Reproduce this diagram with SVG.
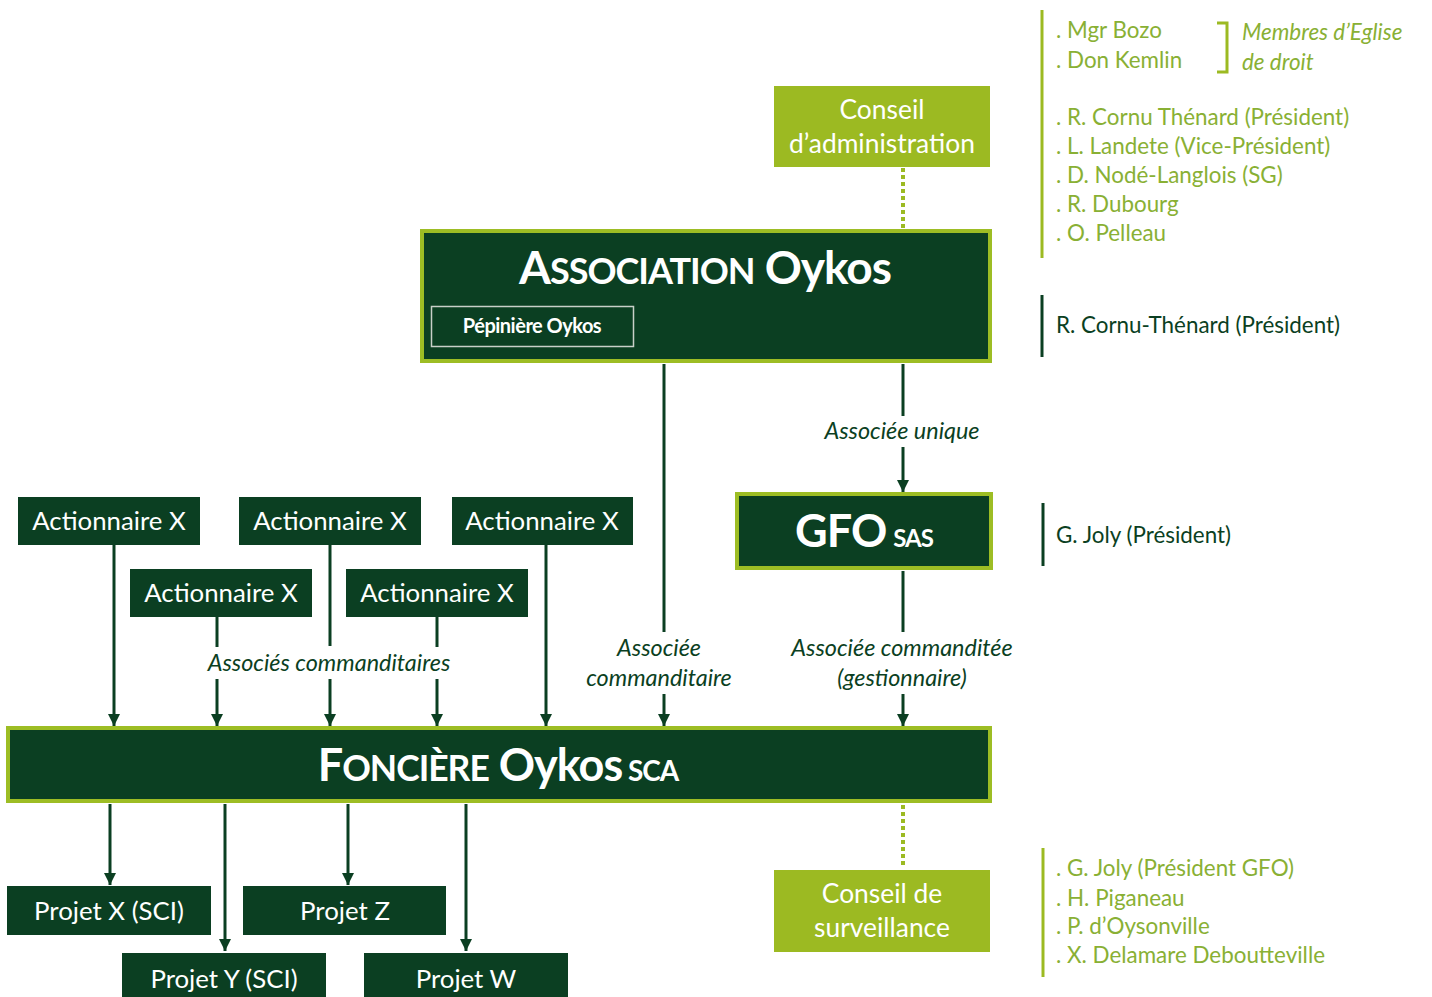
<svg xmlns="http://www.w3.org/2000/svg" width="1432" height="997" viewBox="0 0 1432 997">
<defs>
<style>
.dark{fill:#0b3f22}
.darkb{fill:#0b3f22;stroke:#9dbd24;stroke-width:4}
.lime{fill:#9cba22}
.t{font-family:Lato,"Open Sans","Liberation Sans",sans-serif;fill:#ffffff;text-anchor:middle}
.act{font-size:25.8px}
.ttl{font-weight:700}
.lbl{font-family:Lato,"Open Sans","Liberation Sans",sans-serif;font-style:italic;font-size:23.4px;fill:#0b3f22;text-anchor:middle}
.side{font-family:Lato,"Open Sans","Liberation Sans",sans-serif;font-size:22.4px;fill:#89b034}
.sided{font-family:Lato,"Open Sans","Liberation Sans",sans-serif;font-size:22.4px;fill:#0b3f22}
.ln{stroke:#0b3f22;stroke-width:3;fill:none}
.arr{stroke:#0b3f22;stroke-width:3;fill:none;marker-end:url(#ah)}
.dot{stroke:#9cba22;stroke-width:4;stroke-dasharray:4 3;fill:none}
.bar{stroke:#9cba22;stroke-width:3;fill:none}
.bard{stroke:#0b3f22;stroke-width:3;fill:none}
</style>
<marker id="ah" markerUnits="userSpaceOnUse" markerWidth="14" markerHeight="14" refX="12" refY="6" orient="auto">
<path d="M0,0 L12,6 L0,12 z" fill="#0b3f22"/>
</marker>
</defs>
<rect width="1432" height="997" fill="#ffffff"/>

<g id="connectors">
<line class="dot" x1="903" y1="168" x2="903" y2="229"/>
<line class="ln" x1="903" y1="364" x2="903" y2="416"/>
<line class="arr" x1="903" y1="447" x2="903" y2="492"/>
<line class="ln" x1="664" y1="364" x2="664" y2="632"/>
<line class="arr" x1="664" y1="694" x2="664" y2="726"/>
<line class="ln" x1="903" y1="571" x2="903" y2="632"/>
<line class="arr" x1="903" y1="694" x2="903" y2="726"/>
<line class="arr" x1="114" y1="545" x2="114" y2="726"/>
<line class="arr" x1="546" y1="545" x2="546" y2="726"/>
<line class="ln" x1="330" y1="545" x2="330" y2="646"/>
<line class="arr" x1="330" y1="679" x2="330" y2="726"/>
<line class="ln" x1="217" y1="617" x2="217" y2="647"/>
<line class="arr" x1="217" y1="679" x2="217" y2="726"/>
<line class="ln" x1="437" y1="617" x2="437" y2="647"/>
<line class="arr" x1="437" y1="679" x2="437" y2="726"/>
<line class="arr" x1="110" y1="804" x2="110" y2="885"/>
<line class="arr" x1="348" y1="804" x2="348" y2="885"/>
<line class="arr" x1="225" y1="804" x2="225" y2="951"/>
<line class="arr" x1="466" y1="804" x2="466" y2="951"/>
<line class="dot" x1="903" y1="805" x2="903" y2="868"/>
<text class="lbl" x="902" y="439">Associée unique</text>
<text class="lbl" x="659" y="656">Associée</text>
<text class="lbl" x="659" y="686">commanditaire</text>
<text class="lbl" x="902" y="656">Associée commanditée</text>
<text class="lbl" x="902" y="686">(gestionnaire)</text>
<text class="lbl" x="329" y="671">Associés commanditaires</text>
</g>

<g id="conseil-admin">
<rect class="lime" x="774" y="86" width="216" height="81"/>
<text class="t" x="882" y="119" font-size="26.4">Conseil</text>
<text class="t" x="882" y="153" font-size="26.4">d’administration</text>
</g>

<g id="association">
<rect class="darkb" x="422" y="231" width="568" height="130"/>
<text class="t ttl" x="705" y="284" letter-spacing="-1"><tspan font-size="46">A</tspan><tspan font-size="36">SSOCIATION</tspan><tspan font-size="46"> Oykos</tspan></text>
<rect x="431.5" y="306.5" width="202" height="40" fill="none" stroke="#c8d0c8" stroke-width="1.5"/>
<text class="t ttl" x="532" y="333" font-size="20" letter-spacing="-0.5">Pépinière Oykos</text>
</g>

<g id="gfo">
<rect class="darkb" x="737" y="494" width="254" height="74"/>
<text class="t ttl" x="864" y="547" letter-spacing="-1"><tspan font-size="45">GFO</tspan><tspan font-size="24" dx="7">SAS</tspan></text>
</g>

<g id="act1"><rect class="dark" x="18" y="497" width="182" height="48"/><text class="t act" x="109" y="530">Actionnaire X</text></g>
<g id="act2"><rect class="dark" x="239" y="497" width="182" height="48"/><text class="t act" x="330" y="530">Actionnaire X</text></g>
<g id="act3"><rect class="dark" x="452" y="497" width="181" height="48"/><text class="t act" x="542" y="530">Actionnaire X</text></g>
<g id="act4"><rect class="dark" x="130" y="569" width="182" height="48"/><text class="t act" x="221" y="602">Actionnaire X</text></g>
<g id="act5"><rect class="dark" x="346" y="569" width="182" height="48"/><text class="t act" x="437" y="602">Actionnaire X</text></g>

<g id="fonciere">
<rect class="darkb" x="8" y="728" width="982" height="73"/>
<text class="t ttl" x="498" y="781" letter-spacing="-1"><tspan font-size="45">F</tspan><tspan font-size="35.5">ONCIÈRE</tspan><tspan font-size="45"> Oykos</tspan><tspan font-size="28"> SCA</tspan></text>
</g>

<g id="projet-x"><rect class="dark" x="7" y="886" width="204" height="49"/><text class="t act" x="109" y="920">Projet X (SCI)</text></g>
<g id="projet-z"><rect class="dark" x="243" y="886" width="203" height="49"/><text class="t act" x="345" y="920">Projet Z</text></g>
<g id="projet-y"><rect class="dark" x="122" y="953" width="204" height="50"/><text class="t act" x="224" y="988">Projet Y (SCI)</text></g>
<g id="projet-w"><rect class="dark" x="364" y="953" width="204" height="50"/><text class="t act" x="466" y="988">Projet W</text></g>

<g id="conseil-surv">
<rect class="lime" x="774" y="870" width="216" height="82"/>
<text class="t" x="882" y="903" font-size="26.4">Conseil de</text>
<text class="t" x="882" y="937" font-size="26.4">surveillance</text>
</g>

<g id="side-ca">
<line class="bar" x1="1042" y1="10" x2="1042" y2="258"/>
<text class="side" x="1056" y="38">. Mgr Bozo</text>
<text class="side" x="1056" y="68">. Don Kemlin</text>
<path d="M1217,23 H1227 V72 H1217" class="bar" stroke-width="2.5"/>
<text class="side" x="1242" y="40" font-style="italic">Membres d’Eglise</text>
<text class="side" x="1242" y="70" font-style="italic">de droit</text>
<text class="side" x="1056" y="125">. R. Cornu Thénard (Président)</text>
<text class="side" x="1056" y="154">. L. Landete (Vice-Président)</text>
<text class="side" x="1056" y="183">. D. Nodé-Langlois (SG)</text>
<text class="side" x="1056" y="212">. R. Dubourg</text>
<text class="side" x="1056" y="241">. O. Pelleau</text>
</g>

<g id="side-assoc">
<line class="bard" x1="1042" y1="295" x2="1042" y2="357"/>
<text class="sided" x="1056" y="333">R. Cornu-Thénard (Président)</text>
</g>

<g id="side-gfo">
<line class="bard" x1="1043" y1="503" x2="1043" y2="566"/>
<text class="sided" x="1056" y="543">G. Joly (Président)</text>
</g>

<g id="side-cs">
<line class="bar" x1="1043" y1="848" x2="1043" y2="977"/>
<text class="side" x="1056" y="876">. G. Joly (Président GFO)</text>
<text class="side" x="1056" y="906">. H. Piganeau</text>
<text class="side" x="1056" y="934">. P. d’Oysonville</text>
<text class="side" x="1056" y="963">. X. Delamare Deboutteville</text>
</g>
</svg>
